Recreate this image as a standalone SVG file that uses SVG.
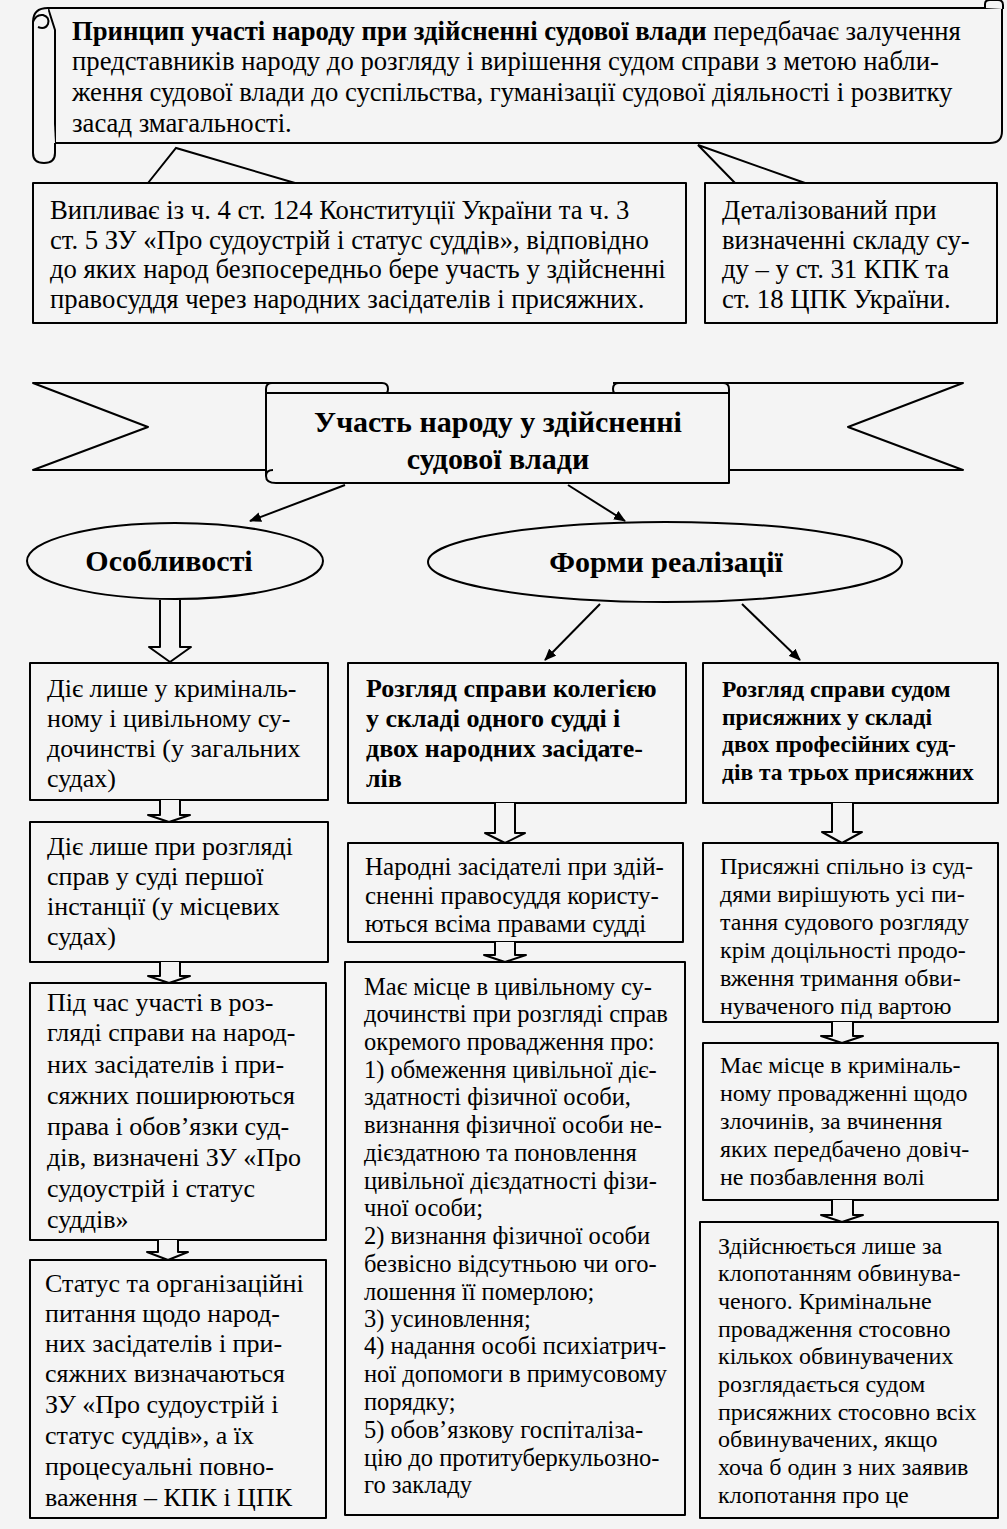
<svg xmlns="http://www.w3.org/2000/svg" width="1007" height="1529" viewBox="0 0 1007 1529">
<defs>
<style>
.bg{fill:#f4f4f4}
.sh{fill:#f4f4f4;stroke:#000;stroke-width:2;stroke-linejoin:round}
.ln{fill:none;stroke:#000;stroke-width:2}
.t{font-family:"Liberation Serif","Times New Roman",serif;fill:#000}
.t27{font-size:26.7px}
.t26{font-size:26px}
.t25{font-size:25px}
.t245{font-size:24.5px}
.t24{font-size:24px}
.b{font-weight:bold}
.c{text-anchor:middle}
</style>
<marker id="ah" viewBox="0 0 12 10" refX="11" refY="5" markerWidth="12" markerHeight="10" markerUnits="userSpaceOnUse" orient="auto">
<path d="M0,0 L12,5 L0,10 Z" fill="#000"/>
</marker>
</defs>
<rect class="bg" x="0" y="0" width="1007" height="1529"/>

<g id="principle">
<path class="sh" d="M48 8 L1002 8 L1002 131 Q1002 143 990 143 L55 143 L55 30 Z"/>
<path class="sh" d="M985 8 L985 4 Q985 0 990 0 L998 0 Q1003 0 1003 5 L1003 9"/>
<path class="sh" d="M48 8 Q33 8 33 22 L33 153 Q33 163 44 163 Q55 163 55 153 L55 143"/>
<path class="ln" d="M33 22 Q36 14 43 15 Q50 17 48 24 Q45 30 38 27"/>
<text class="t t27" x="72" y="40"><tspan class="b">Принцип участі народу при здійсненні судової влади</tspan>  передбачає залучення</text>
<text class="t t27" x="72" y="70">представників народу до розгляду і вирішення судом справи з метою набли-</text>
<text class="t t27" x="72" y="101">ження судової влади до суспільства, гуманізації судової діяльності і розвитку</text>
<text class="t t27" x="72" y="132">засад змагальності.</text>
</g>

<g id="source">
<rect class="sh" x="33" y="183" width="653" height="140"/>
<text class="t t27" x="50" y="219">Випливає із ч. 4 ст. 124 Конституції України та ч. 3</text>
<text class="t t27" x="50" y="249">ст. 5 ЗУ «Про судоустрій і статус суддів», відповідно</text>
<text class="t t27" x="50" y="278">до яких народ безпосередньо бере участь у здійсненні</text>
<text class="t t27" x="50" y="308">правосуддя через народних засідателів і присяжних.</text>
</g>

<g id="detail">
<rect class="sh" x="705" y="183" width="292" height="140"/>
<text class="t t27" x="722" y="219">Деталізований при</text>
<text class="t t27" x="722" y="249">визначенні складу су-</text>
<text class="t t27" x="722" y="278">ду – у ст. 31 КПК та</text>
<text class="t t27" x="722" y="308">ст. 18 ЦПК України.</text>
</g>

<g id="banner">
<path class="sh" d="M382 383 L33 383 L148 427 L33 470 L270 470"/>
<path class="sh" d="M613 383 L963 383 L848 427 L963 470 L725 470"/>
<path class="sh" d="M266 397 L266 389 Q266 383 272 383 L382 383 Q388 383 388 389 Q388 395 382 395 L266 395"/>
<path class="sh" d="M729 397 L729 389 Q729 383 723 383 L619 383 Q613 383 613 389 Q613 395 619 395 L729 395"/>
<path class="sh" d="M266 393 L729 393 L729 483 L276 483 Q266 483 266 476 Z"/>
<path class="ln" d="M266 476 Q266 470 273 470"/>
<text class="t b c" style="font-size:30px" x="498" y="432">Участь народу у здійсненні</text>
<text class="t b c" style="font-size:30px" x="498" y="469">судової влади</text>
</g>

<g id="features">
<ellipse class="sh" cx="175" cy="561" rx="148" ry="38"/>
<text class="t b c" style="font-size:30px" x="169" y="571">Особливості</text>
</g>

<g id="forms">
<ellipse class="sh" cx="665" cy="562" rx="237" ry="40"/>
<text class="t b c" style="font-size:30px" x="666" y="572">Форми реалізації</text>
</g>

<g id="left1">
<rect class="sh" x="30" y="663" width="298" height="137"/>
<text class="t t26" x="47" y="697">Діє лише у криміналь-</text>
<text class="t t26" x="47" y="727">ному і цивільному су-</text>
<text class="t t26" x="47" y="757">дочинстві (у загальних</text>
<text class="t t26" x="47" y="787">судах)</text>
</g>

<g id="left2">
<rect class="sh" x="30" y="822" width="298" height="140"/>
<text class="t t26" x="47" y="855">Діє лише при розгляді</text>
<text class="t t26" x="47" y="885">справ у суді першої</text>
<text class="t t26" x="47" y="915">інстанції (у місцевих</text>
<text class="t t26" x="47" y="945">судах)</text>
</g>

<g id="left3">
<rect class="sh" x="30" y="983" width="296" height="257"/>
<text class="t t26" x="47" y="1011">Під час участі в роз-</text>
<text class="t t26" x="47" y="1041">гляді справи на народ-</text>
<text class="t t26" x="47" y="1073">них засідателів і при-</text>
<text class="t t26" x="47" y="1104">сяжних поширюються</text>
<text class="t t26" x="47" y="1135">права і обов’язки суд-</text>
<text class="t t26" x="47" y="1166">дів, визначені ЗУ «Про</text>
<text class="t t26" x="47" y="1197">судоустрій і статус</text>
<text class="t t26" x="47" y="1228">суддів»</text>
</g>

<g id="left4">
<rect class="sh" x="30" y="1260" width="296" height="258"/>
<text class="t t26" x="45" y="1292">Статус та організаційні</text>
<text class="t t26" x="45" y="1322">питання щодо народ-</text>
<text class="t t26" x="45" y="1352">них засідателів і при-</text>
<text class="t t26" x="45" y="1382">сяжних визначаються</text>
<text class="t t26" x="45" y="1413">ЗУ «Про судоустрій і</text>
<text class="t t26" x="45" y="1444">статус суддів», а їх</text>
<text class="t t26" x="45" y="1475">процесуальні повно-</text>
<text class="t t26" x="45" y="1506">важення – КПК і ЦПК</text>
</g>

<g id="mid1">
<rect class="sh" x="348" y="663" width="338" height="140"/>
<text class="t t26 b" x="366" y="697">Розгляд справи колегією</text>
<text class="t t26 b" x="366" y="727">у складі одного судді і</text>
<text class="t t26 b" x="366" y="757">двох народних засідате-</text>
<text class="t t26 b" x="366" y="787">лів</text>
</g>

<g id="mid2">
<rect class="sh" x="348" y="843" width="335" height="99"/>
<text class="t t25" x="365" y="875">Народні засідателі при здій-</text>
<text class="t t25" x="365" y="904">сненні правосуддя користу-</text>
<text class="t t25" x="365" y="932">ються всіма правами судді</text>
</g>

<g id="mid3">
<rect class="sh" x="345" y="962" width="340" height="553"/>
<text class="t t245" x="364" y="995">Має місце в цивільному су-</text>
<text class="t t245" x="364" y="1022">дочинстві при розгляді справ</text>
<text class="t t245" x="364" y="1050">окремого провадження про:</text>
<text class="t t245" x="364" y="1078">1) обмеження цивільної діє-</text>
<text class="t t245" x="364" y="1105">здатності фізичної особи,</text>
<text class="t t245" x="364" y="1133">визнання фізичної особи не-</text>
<text class="t t245" x="364" y="1161">дієздатною та поновлення</text>
<text class="t t245" x="364" y="1189">цивільної дієздатності фізи-</text>
<text class="t t245" x="364" y="1216">чної особи;</text>
<text class="t t245" x="364" y="1244">2) визнання фізичної особи</text>
<text class="t t245" x="364" y="1272">безвісно відсутньою чи ого-</text>
<text class="t t245" x="364" y="1300">лошення її померлою;</text>
<text class="t t245" x="364" y="1327">3) усиновлення;</text>
<text class="t t245" x="364" y="1354">4) надання особі психіатрич-</text>
<text class="t t245" x="364" y="1382">ної допомоги в примусовому</text>
<text class="t t245" x="364" y="1410">порядку;</text>
<text class="t t245" x="364" y="1438">5) обов’язкову госпіталіза-</text>
<text class="t t245" x="364" y="1466">цію до протитуберкульозно-</text>
<text class="t t245" x="364" y="1493">го закладу</text>
</g>

<g id="right1">
<rect class="sh" x="703" y="663" width="295" height="140"/>
<text class="t b" style="font-size:23.5px" x="722" y="697">Розгляд справи судом</text>
<text class="t b" style="font-size:23.5px" x="722" y="725">присяжних у складі</text>
<text class="t b" style="font-size:23.5px" x="722" y="752">двох професійних суд-</text>
<text class="t b" style="font-size:23.5px" x="722" y="780">дів та трьох присяжних</text>
</g>

<g id="right2">
<rect class="sh" x="703" y="843" width="295" height="179"/>
<text class="t t24" x="720" y="874">Присяжні спільно із суд-</text>
<text class="t t24" x="720" y="902">дями вирішують усі пи-</text>
<text class="t t24" x="720" y="930">тання судового розгляду</text>
<text class="t t24" x="720" y="958">крім доцільності продо-</text>
<text class="t t24" x="720" y="986">вження тримання обви-</text>
<text class="t t24" x="720" y="1014">нуваченого під вартою</text>
</g>

<g id="right3">
<rect class="sh" x="703" y="1043" width="295" height="157"/>
<text class="t t24" x="720" y="1073">Має місце в криміналь-</text>
<text class="t t24" x="720" y="1101">ному провадженні щодо</text>
<text class="t t24" x="720" y="1129">злочинів, за вчинення</text>
<text class="t t24" x="720" y="1157">яких передбачено довіч-</text>
<text class="t t24" x="720" y="1185">не позбавлення волі</text>
</g>

<g id="right4">
<rect class="sh" x="700" y="1222" width="298" height="296"/>
<text class="t t24" x="718" y="1254">Здійснюється лише за</text>
<text class="t t24" x="718" y="1281">клопотанням обвинува-</text>
<text class="t t24" x="718" y="1309">ченого. Кримінальне</text>
<text class="t t24" x="718" y="1337">провадження стосовно</text>
<text class="t t24" x="718" y="1364">кількох обвинувачених</text>
<text class="t t24" x="718" y="1392">розглядається судом</text>
<text class="t t24" x="718" y="1420">присяжних стосовно всіх</text>
<text class="t t24" x="718" y="1447">обвинувачених, якщо</text>
<text class="t t24" x="718" y="1475">хоча б один з них заявив</text>
<text class="t t24" x="718" y="1503">клопотання про це</text>
</g>

<g id="connectors">
<path class="ln" d="M148 183 L176 148 L295 183"/>
<path class="ln" d="M735 183 L698 145 L805 183"/>
<path class="ln" d="M345 485 L250 521" marker-end="url(#ah)"/>
<path class="ln" d="M568 485 L625 521" marker-end="url(#ah)"/>
<path class="ln" d="M600 604 L545 660" marker-end="url(#ah)"/>
<path class="ln" d="M742 604 L800 660" marker-end="url(#ah)"/>
<path class="sh" d="M160 600 L160 647 L149 647 L170 662 L191 647 L180 647 L180 600"/>
<path class="sh" d="M495 803 L495 833 L485 833 L505 843 L525 833 L515 833 L515 803"/>
<path class="sh" d="M832 803 L832 832 L822 832 L842 843 L862 832 L853 832 L853 803"/>
<path class="sh" d="M160 800 L160 815 L148 815 L169 822 L190 815 L180 815 L180 800"/>
<path class="sh" d="M160 962 L160 976 L148 976 L169 983 L190 976 L180 976 L180 962"/>
<path class="sh" d="M158 1240 L158 1252 L147 1252 L168 1260 L188 1252 L178 1252 L178 1240"/>
<path class="sh" d="M495 942 L495 955 L484 955 L505 962 L526 955 L515 955 L515 942"/>
<path class="sh" d="M832 1022 L832 1036 L821 1036 L842 1043 L863 1036 L853 1036 L853 1022"/>
<path class="sh" d="M832 1200 L832 1215 L821 1215 L842 1222 L863 1215 L853 1215 L853 1200"/>
</g>
</svg>
